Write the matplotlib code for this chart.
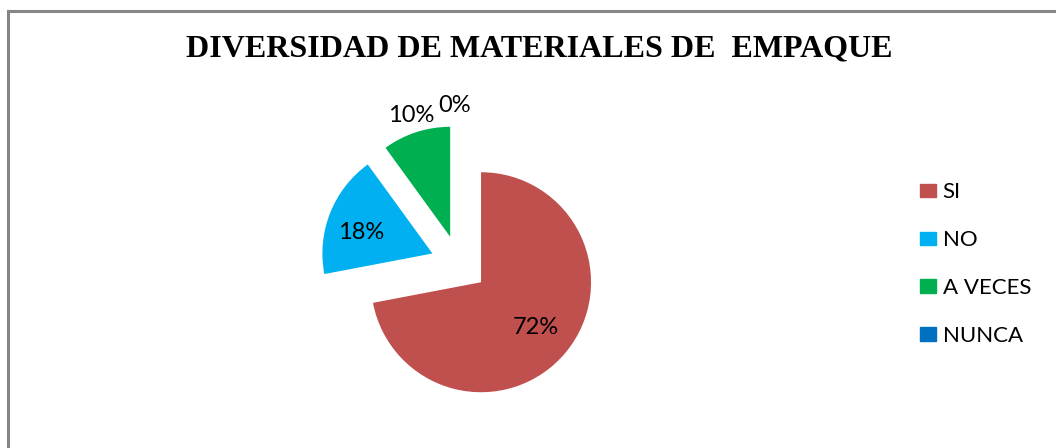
import numpy as np
import matplotlib
matplotlib.use("Agg")
import matplotlib.pyplot as plt
from matplotlib.patches import Rectangle

categories = ["SI", "NO", "A VECES", "NUNCA"]
values = [72, 18, 10, 0]
pct_labels = ["72%", "18%", "10%", "0%"]
colors = ["#C0504D", "#00B0F0", "#00B050", "#0070C0"]
title = "DIVERSIDAD DE MATERIALES DE  EMPAQUE"

W, H = 1056, 448
fig = plt.figure(figsize=(W / 100, H / 100), dpi=100)

# frame (right and bottom edges cut off)
fig.add_artist(plt.Line2D([8 / W, 8 / W], [0, 1 - 11 / H], color="#868686", lw=2.2))
fig.add_artist(plt.Line2D([8 / W, 1], [1 - 11 / H, 1 - 11 / H], color="#868686", lw=2.2))

# pie axes: 1 data unit = R px, pie centre at pixel (cx, cy_top)
R = 110.0
cx, cy_top = 459.0, 264.0
left_px, right_px, top_px, bot_px = 300, 620, 60, 420
ax = fig.add_axes([left_px / W, 1 - bot_px / H, (right_px - left_px) / W, (bot_px - top_px) / H])
cy = H - cy_top

wedges, _ = ax.pie(values, colors=colors, explode=[0.26] * 4, startangle=90,
                   counterclock=False, radius=1.0, wedgeprops=dict(linewidth=0))
ax.set_aspect("auto")
ax.set_xlim(-(cx - left_px) / R, (right_px - cx) / R)
ax.set_ylim(-(cy - (H - bot_px)) / R, ((H - top_px) - cy) / R)
ax.axis("off")

label_dist = [0.65, 0.68, 1.16, 1.18]
label_rot = [0, 5, 0, 2]
for w, lab, d, r in zip(wedges, pct_labels, label_dist, label_rot):
    mid = np.deg2rad((w.theta1 + w.theta2) / 2 + r)
    x0, y0 = w.center
    ax.text(x0 + d * np.cos(mid), y0 + d * np.sin(mid), lab, ha="center", va="center",
            fontsize=17, family="Lato", color="black")

fig.text(539 / W, 1 - 49 / H, title, ha="center", va="center", fontsize=23,
         fontweight="bold", family="Liberation Serif")

handles = [Rectangle((0, 0), 1, 1, color=c) for c in colors]
leg = fig.legend(handles, categories, loc="center left", bbox_to_anchor=(911 / W, 1 - 264 / H),
                 frameon=False, prop=dict(family="Lato", size=16), handlelength=0.72,
                 handleheight=0.55, handletextpad=0.3, labelspacing=1.25, borderaxespad=0)

fig.savefig("out.png", dpi=100)
